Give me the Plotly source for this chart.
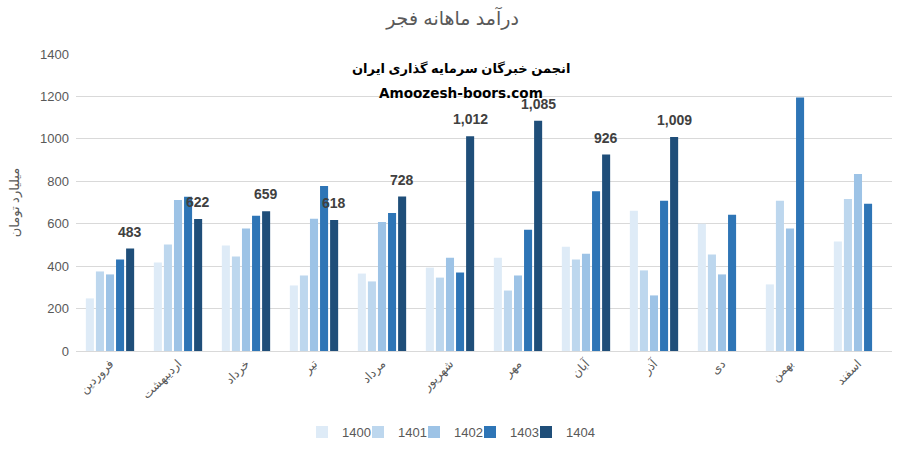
import plotly.graph_objects as go

months = ["فروردین", "اردیبهشت", "خرداد", "تیر", "مرداد", "شهریور",
          "مهر", "آبان", "آذر", "دی", "بهمن", "اسفند"]

v1400 = [248, 417, 497, 309, 365, 393, 440, 491, 661, 600, 314, 516]
v1401 = [375, 502, 445, 356, 328, 346, 285, 431, 380, 455, 708, 717]
v1402 = [361, 712, 577, 623, 608, 440, 356, 459, 262, 361, 577, 834]
v1403 = [431, 727, 637, 778, 650, 370, 571, 753, 708, 642, 1195, 694]
v1404 = [483, 622, 659, 618, 728, 1012, 1085, 926, 1009, None, None, None]

years = ["1400", "1401", "1402", "1403", "1404"]
series = [v1400, v1401, v1402, v1403, v1404]
colors = ["#DEEBF7", "#BDD7EE", "#9DC3E6", "#2E75B6", "#1F4E79"]

title_text = "درآمد ماهانه فجر"
y_title = "میلیارد تومان"
wm1 = "انجمن خبرگان سرمایه گذاری ایران"
wm2 = "Amoozesh-boors.com"

FONT = "Liberation Sans, DejaVu Sans, sans-serif"

fig = go.Figure()
for i, (name, vals, col) in enumerate(zip(years, series, colors)):
    fig.add_trace(go.Bar(x=months, y=vals, name=name, marker_color=col,
                         marker_line_width=0,
                         legendwidth=11 if i < len(years) - 1 else 32))

# data labels for 1404
for m, v in zip(months, v1404):
    if v is None:
        continue
    fig.add_annotation(x=m, y=v, xref="x", yref="y", text=f"<b>{v:,}</b>",
                       showarrow=False, xshift=20, yshift=17,
                       font=dict(size=14, color="#404040", family=FONT))

fig.add_annotation(x=0.472, y=1.0, xref="paper", yref="paper", yanchor="middle",
                   yshift=-14, text=f"<b>{wm1}</b>", showarrow=False,
                   font=dict(size=13, color="#000000", family=FONT))
fig.add_annotation(x=0.472, y=1.0, xref="paper", yref="paper", yanchor="middle",
                   yshift=-39, text=f"<b>{wm2}</b>", showarrow=False,
                   font=dict(size=13.6, color="#000000", family="DejaVu Sans, sans-serif"))

# y-axis title
fig.add_annotation(x=-0.075, y=0.5, xref="paper", yref="paper", textangle=-90,
                   xanchor="center", yanchor="middle", text=y_title, showarrow=False,
                   font=dict(size=13, color="#595959", family=FONT))

fig.update_layout(
    width=905, height=453,
    margin=dict(l=76, r=13, t=54, b=102),
    paper_bgcolor="white", plot_bgcolor="white",
    barmode="group", bargap=0.26, bargroupgap=0.2,
    title=dict(text=title_text, x=0.5, xanchor="center", y=0.96, yanchor="middle",
               font=dict(size=19, color="#595959", family=FONT)),
    font=dict(family=FONT, color="#595959", size=13),
    legend=dict(orientation="h", xref="container", yref="container",
                x=0.5, xanchor="center", y=0.046, yanchor="middle",
                font=dict(size=13, color="#595959"), itemwidth=30,
                traceorder="normal"),
    xaxis=dict(tickangle=-45, tickfont=dict(size=12, color="#595959"),
               showline=True, linecolor="#D9D9D9", ticks="", automargin=False),
    yaxis=dict(range=[0, 1400], dtick=200, tickformat="d",
               gridcolor="#D9D9D9", zeroline=False, automargin=False,
               ticklabelstandoff=6,
               tickfont=dict(size=13, color="#595959")),
)

fig.write_html("out.html", config={"displayModeBar": False},
               post_script="document.body.style.margin='0';document.body.style.overflow='hidden';")
